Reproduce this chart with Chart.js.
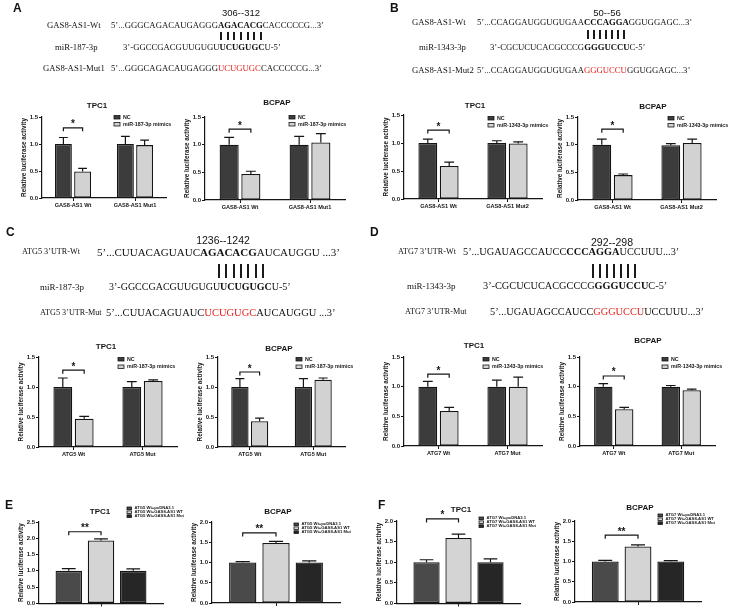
<!DOCTYPE html>
<html>
<head>
<meta charset="utf-8">
<script src="https://cdn.jsdelivr.net/npm/chart.js"></script>
<style>
body{margin:0;background:#fff;}
#page{position:relative;width:730px;height:608px;overflow:hidden;background:#fff;}
#page canvas{position:absolute;left:0;top:0;}
.t{position:absolute;white-space:nowrap;line-height:1;transform:translateY(-50%);color:#111;}
.c{transform:translate(-50%,-50%);}
.seq{font-family:"Liberation Serif","Times New Roman",serif;}
.sans{font-family:"Liberation Sans",Arial,sans-serif;}
.pl{font-family:"Liberation Sans",Arial,sans-serif;font-weight:bold;}
.red{color:#e3221c;}
.pair{position:absolute;background:#1a1a1a;width:2px;}
</style>
</head>
<body>
<div id="page"></div>
<script>
// ---- data ----
var gasLabelsA = ['GAS8-AS1 Wt', 'GAS8-AS1 Mut1'];
var gasLabelsB = ['GAS8-AS1 Wt', 'GAS8-AS1 Mut2'];
var atg5Labels = ['ATG5 Wt', 'ATG5 Mut'];
var atg7Labels = ['ATG7 Wt', 'ATG7 Mut'];
var oneLabel = [''];

// A: GAS8-AS1 / miR-187-3p
var aTpcNC = [1.00, 1.00], aTpcNCErr = [0.12, 0.14];
var aTpcMim = [0.49, 0.98], aTpcMimErr = [0.06, 0.09];
var aBcNC = [1.00, 1.00], aBcNCErr = [0.13, 0.15];
var aBcMim = [0.47, 1.04], aBcMimErr = [0.05, 0.16];
// B: GAS8-AS1 / miR-1343-3p
var bTpcNC = [1.00, 1.00], bTpcNCErr = [0.07, 0.04];
var bTpcMim = [0.59, 0.99], bTpcMimErr = [0.07, 0.03];
var bBcNC = [1.00, 0.99], bBcNCErr = [0.10, 0.03];
var bBcMim = [0.45, 1.03], bBcMimErr = [0.02, 0.07];
// C: ATG5 / miR-187-3p
var cTpcNC = [1.00, 1.00], cTpcNCErr = [0.15, 0.09];
var cTpcMim = [0.47, 1.10], cTpcMimErr = [0.04, 0.02];
var cBcNC = [1.00, 1.00], cBcNCErr = [0.14, 0.14];
var cBcMim = [0.43, 1.12], cBcMimErr = [0.05, 0.03];
// D: ATG7 / miR-1343-3p
var dTpcNC = [1.00, 1.00], dTpcNCErr = [0.09, 0.11];
var dTpcMim = [0.59, 1.00], dTpcMimErr = [0.06, 0.16];
var dBcNC = [1.00, 1.00], dBcNCErr = [0.05, 0.02];
var dBcMim = [0.62, 0.94], dBcMimErr = [0.03, 0.02];
// E: ATG5 Wt + pcDNA3.1 / GAS8-AS1 WT / GAS8-AS1 Mut
var eTpcVals = [1.00, 1.93, 1.00], eTpcErr = [0.07, 0.05, 0.06];
var eBcVals = [1.00, 1.48, 1.00], eBcErr = [0.02, 0.04, 0.04];
// F: ATG7 Wt + pcDNA3.1 / GAS8-AS1 WT / GAS8-AS1 Mut
var fTpcVals = [1.00, 1.59, 1.00], fTpcErr = [0.06, 0.09, 0.08];
var fBcVals = [1.00, 1.37, 1.00], fBcErr = [0.03, 0.04, 0.02];
// significance brackets (height on y axis) and marks
var bracketY = {A1: 1.30, A2: 1.28, B1: 1.23, B2: 1.28, C1: 1.28, C2: 1.25, D1: 1.21, D2: 1.18, E1: 2.20, E2: 1.73, F1: 2.05, F2: 1.65};
var bracketMark = {A1: '*', A2: '*', B1: '*', B2: '*', C1: '*', C2: '*', D1: '*', D2: '*', E1: '**', E2: '**', F1: '*', F2: '**'};

var colNC = '#3c3c3c', colMim = '#d2d2d2';
var col3 = ['#4a4a4a', '#d4d4d4', '#262626'];
var ink = '#151515';
var sansFam = "'Liberation Sans', Arial, sans-serif";

Chart.defaults.font.family = sansFam;
Chart.defaults.color = ink;

var page = document.getElementById('page');

function drawExtras(chart, o) {
    var ctx = chart.ctx, ys = chart.scales.y;
    ctx.save();
    ctx.strokeStyle = ink;
    ctx.fillStyle = ink;
    ctx.lineWidth = 1.2;
    // error bars (upper only)
    chart.data.datasets.forEach(function (ds, i) {
        chart.getDatasetMeta(i).data.forEach(function (bar, j) {
            var top = ys.getPixelForValue(ds.data[j] + ds.err[j]);
            var cap = bar.width * 0.26;
            ctx.beginPath();
            ctx.moveTo(bar.x, bar.y);
            ctx.lineTo(bar.x, top);
            ctx.moveTo(bar.x - cap, top);
            ctx.lineTo(bar.x + cap, top);
            ctx.stroke();
        });
    });
    // bracket
    var x1 = chart.getDatasetMeta(0).data[0].x;
    var x2 = chart.getDatasetMeta(1).data[0].x;
    var by = ys.getPixelForValue(bracketY[o.key]);
    ctx.beginPath();
    ctx.moveTo(x1, by + 3.5);
    ctx.lineTo(x1, by);
    ctx.lineTo(x2, by);
    ctx.lineTo(x2, by + 3.5);
    ctx.stroke();
    ctx.font = 'bold 10px ' + sansFam;
    ctx.textAlign = 'center';
    ctx.textBaseline = 'alphabetic';
    ctx.fillText(bracketMark[o.key], (x1 + x2) / 2, by - 0.5);
    // title
    ctx.font = 'bold 8px ' + sansFam;
    ctx.textBaseline = 'middle';
    ctx.fillText(o.title, o.tx, o.ty);
    // legend
    ctx.textAlign = 'left';
    ctx.font = 'bold ' + o.lf + 'px ' + sansFam;
    chart.data.datasets.forEach(function (ds, i) {
        var ly = o.ly + i * o.ls;
        ctx.fillStyle = ds.backgroundColor;
        ctx.fillRect(o.lx, ly, o.lw, o.lh);
        ctx.lineWidth = 0.8;
        ctx.strokeRect(o.lx, ly, o.lw, o.lh);
        ctx.fillStyle = ink;
        ctx.fillText(ds.label, o.lx + o.lw + 3, ly + o.lh / 2);
    });
    ctx.restore();
}

function barChart(o) {
    var cv = document.createElement('canvas');
    cv.width = 730;
    cv.height = 608;
    page.appendChild(cv);
    var xh = o.xh || 12;
    var sets = o.sets.map(function (s) {
        return {
            label: s.label, data: s.data, err: s.err,
            backgroundColor: s.color, borderColor: ink, borderWidth: 1.3, borderSkipped: false,
            categoryPercentage: o.cp, barPercentage: o.bp
        };
    });
    return new Chart(cv, {
        type: 'bar',
        data: {labels: o.labels, datasets: sets},
        options: {
            responsive: false,
            animation: false,
            events: [],
            layout: {padding: {left: o.ax - 24, right: 730 - o.ar, top: o.yt, bottom: 608 - o.yb - xh}},
            plugins: {legend: {display: false}, tooltip: {enabled: false}},
            scales: {
                x: {
                    grid: {drawOnChartArea: false, tickLength: 3, offset: false, color: ink, lineWidth: 1},
                    border: {color: ink, width: 1.2},
                    ticks: {font: {size: 5.6, weight: 'bold'}, padding: 1, maxRotation: 0, autoSkip: false},
                    afterFit: function (s) { s.height = xh; }
                },
                y: {
                    min: 0, max: o.max,
                    grid: {drawOnChartArea: false, tickLength: 3, color: ink, lineWidth: 1},
                    border: {color: ink, width: 1.2},
                    ticks: {stepSize: 0.5, font: {size: 6, weight: 'bold'}, padding: 1,
                        callback: function (v) { return v.toFixed(1); }},
                    title: {display: true, text: 'Relative luciferase activity',
                        font: {size: 6.3, weight: 'bold'}, padding: {top: 2.5, bottom: 0}},
                    afterFit: function (s) { s.width = 24; }
                }
            }
        },
        plugins: [{id: 'extras', afterDatasetsDraw: function (chart) { drawExtras(chart, o); }}]
    });
}

function pairSets(l2, nc, ncErr, mim, mimErr) {
    return [{label: 'NC', data: nc, err: ncErr, color: colNC},
            {label: l2, data: mim, err: mimErr, color: colMim}];
}
function tripleSets(gene, vals, errs) {
    var names = [gene + ' Wt+pcDNA3.1', gene + ' Wt+GAS8-AS1 WT', gene + ' Wt+GAS8-AS1 Mut'];
    return names.map(function (n, i) {
        return {label: n, data: [vals[i]], err: [errs[i]], color: col3[i]};
    });
}

var pairOpts = {max: 1.5, cp: 0.62, bp: 0.88, lw: 6, lh: 3.5, ls: 7, lf: 5.3};
var tripOpts = {max: 2.0, cp: 0.78, bp: 0.82, lw: 4.5, lh: 2.6, ls: 3.9, lf: 4.2, xh: 3};
function withBase(base, o) { return Object.assign({}, base, o); }

// A
barChart(withBase(pairOpts, {key: 'A1', ax: 42, ar: 166, yt: 117, yb: 198, labels: gasLabelsA,
    sets: pairSets('miR-187-3p mimics', aTpcNC, aTpcNCErr, aTpcMim, aTpcMimErr),
    title: 'TPC1', tx: 97, ty: 106, lx: 114, ly: 115.5}));
barChart(withBase(pairOpts, {key: 'A2', ax: 205, ar: 345, yt: 117, yb: 200, labels: gasLabelsA,
    sets: pairSets('miR-187-3p mimics', aBcNC, aBcNCErr, aBcMim, aBcMimErr),
    title: 'BCPAP', tx: 277, ty: 103, lx: 289, ly: 115.5}));
// B
barChart(withBase(pairOpts, {key: 'B1', ax: 404, ar: 542, yt: 115, yb: 199, labels: gasLabelsB,
    sets: pairSets('miR-1343-3p mimics', bTpcNC, bTpcNCErr, bTpcMim, bTpcMimErr),
    title: 'TPC1', tx: 475, ty: 106, lx: 488, ly: 116.5}));
barChart(withBase(pairOpts, {key: 'B2', ax: 578, ar: 716, yt: 117, yb: 200, labels: gasLabelsB,
    sets: pairSets('miR-1343-3p mimics', bBcNC, bBcNCErr, bBcMim, bBcMimErr),
    title: 'BCPAP', tx: 653, ty: 107, lx: 668, ly: 116.5}));
// C
barChart(withBase(pairOpts, {key: 'C1', ax: 39, ar: 177, yt: 357, yb: 447, labels: atg5Labels, ls: 7.5,
    sets: pairSets('miR-187-3p mimics', cTpcNC, cTpcNCErr, cTpcMim, cTpcMimErr),
    title: 'TPC1', tx: 106, ty: 347, lx: 118, ly: 357.5}));
barChart(withBase(pairOpts, {key: 'C2', ax: 218, ar: 345, yt: 357, yb: 447, labels: atg5Labels, ls: 7.5,
    sets: pairSets('miR-187-3p mimics', cBcNC, cBcNCErr, cBcMim, cBcMimErr),
    title: 'BCPAP', tx: 279, ty: 349, lx: 296, ly: 357.5}));
// D
barChart(withBase(pairOpts, {key: 'D1', ax: 404, ar: 542, yt: 357, yb: 446, labels: atg7Labels, ls: 7.5,
    sets: pairSets('miR-1343-3p mimics', dTpcNC, dTpcNCErr, dTpcMim, dTpcMimErr),
    title: 'TPC1', tx: 474, ty: 346, lx: 483, ly: 357.5}));
barChart(withBase(pairOpts, {key: 'D2', ax: 580, ar: 715, yt: 357, yb: 446, labels: atg7Labels, ls: 7.5,
    sets: pairSets('miR-1343-3p mimics', dBcNC, dBcNCErr, dBcMim, dBcMimErr),
    title: 'BCPAP', tx: 648, ty: 341, lx: 662, ly: 357.5}));
// E
barChart(withBase(tripOpts, {key: 'E1', max: 2.5, ax: 39, ar: 163, yt: 522, yb: 605, labels: oneLabel,
    sets: tripleSets('ATG5', eTpcVals, eTpcErr), title: 'TPC1', tx: 100, ty: 512, lx: 127, ly: 507}));
barChart(withBase(tripOpts, {key: 'E2', ax: 212, ar: 340, yt: 522, yb: 603, labels: oneLabel,
    sets: tripleSets('ATG5', eBcVals, eBcErr), title: 'BCPAP', tx: 278, ty: 512, lx: 294, ly: 523}));
// F
barChart(withBase(tripOpts, {key: 'F1', ax: 397, ar: 520, yt: 521, yb: 604, labels: oneLabel,
    sets: tripleSets('ATG7', fTpcVals, fTpcErr), title: 'TPC1', tx: 461, ty: 510, lx: 479, ly: 517}));
barChart(withBase(tripOpts, {key: 'F2', ax: 575, ar: 701, yt: 521, yb: 602, labels: oneLabel,
    sets: tripleSets('ATG7', fBcVals, fBcErr), title: 'BCPAP', tx: 640, ty: 508, lx: 658, ly: 514}));

// ---- sequence schematics ----
function txt(html, x, y, cls, size, center) {
    var d = document.createElement('div');
    d.className = 't ' + cls + (center ? ' c' : '');
    d.style.left = x + 'px';
    d.style.top = y + 'px';
    d.style.fontSize = size + 'px';
    d.innerHTML = html;
    page.appendChild(d);
}
function pairing(x1, x2, y1, y2) {
    for (var i = 0; i < 7; i++) {
        var d = document.createElement('div');
        d.className = 'pair';
        d.style.left = Math.round(x1 + (x2 - x1) * i / 6) + 'px';
        d.style.top = y1 + 'px';
        d.style.height = (y2 - y1) + 'px';
        page.appendChild(d);
    }
}
var q = '&#8217;';

txt('A', 13, 8, 'pl', 12);
txt('306--312', 241, 13, 'sans', 9.5, true);
txt('GAS8-AS1-Wt', 47, 25, 'seq', 8.7);
txt('5' + q + '...GGGCAGACAUGAGGG<b>AGACACG</b>CACCCCCG...3' + q, 111, 25, 'seq', 8.7);
pairing(220, 260, 32, 40);
txt('miR-187-3p', 55, 47, 'seq', 8.7);
txt('3' + q + '-GGCCGACGUUGUGU<b>UCUGUGC</b>U-5' + q, 123, 47, 'seq', 8.7);
txt('GAS8-AS1-Mut1', 43, 68, 'seq', 8.7);
txt('5' + q + '...GGGCAGACAUGAGGG<span class="red">UCUGUGC</span>CACCCCCG...3' + q, 111, 68, 'seq', 8.7);

txt('B', 390, 8, 'pl', 12);
txt('50--56', 607, 13, 'sans', 9.5, true);
txt('GAS8-AS1-Wt', 412, 22, 'seq', 8.7);
txt('5' + q + '...CCAGGAUGGUGUGAA<b>CCCAGGA</b>GGUGGAGC...3' + q, 477, 22, 'seq', 8.7);
pairing(587, 623, 30, 39);
txt('miR-1343-3p', 419, 47, 'seq', 8.7);
txt('3' + q + '-CGCUCUCACGCCCG<b>GGGUCCU</b>C-5' + q, 490, 47, 'seq', 8.7);
txt('GAS8-AS1-Mut2', 412, 70, 'seq', 8.7);
txt('5' + q + '...CCAGGAUGGUGUGAA<span class="red">GGGUCCU</span>GGUGGAGC...3' + q, 477, 70, 'seq', 8.7);

txt('C', 6, 232, 'pl', 12);
txt('1236--1242', 223, 240, 'sans', 10.5, true);
txt('ATG5 3' + q + 'UTR-Wt', 22, 252, 'seq', 8.2);
txt('5' + q + '...CUUACAGUAUC<b>AGACACG</b>AUCAUGGU ...3' + q, 97, 252, 'seq', 11);
pairing(218, 262, 264, 278);
txt('miR-187-3p', 40, 287, 'seq', 9);
txt('3' + q + '-GGCCGACGUUGUGU<b>UCUGUGC</b>U-5' + q, 109, 287, 'seq', 10);
txt('ATG5 3' + q + 'UTR-Mut', 40, 313, 'seq', 8.2);
txt('5' + q + '...CUUACAGUAUC<span class="red">UCUGUGC</span>AUCAUGGU ...3' + q, 106, 313, 'seq', 10.5);

txt('D', 370, 232, 'pl', 12);
txt('292--298', 612, 242, 'sans', 10.5, true);
txt('ATG7 3' + q + 'UTR-Wt', 398, 252, 'seq', 8.2);
txt('5' + q + '...UGAUAGCCAUCC<b>CCCAGGA</b>UCCUUU...3' + q, 463, 252, 'seq', 10.3);
pairing(592, 634, 264, 278);
txt('miR-1343-3p', 407, 286, 'seq', 9);
txt('3' + q + '-CGCUCUCACGCCCG<b>GGGUCCU</b>C-5' + q, 483, 286, 'seq', 10.3);
txt('ATG7 3' + q + 'UTR-Mut', 405, 312, 'seq', 8.2);
txt('5' + q + '...UGAUAGCCAUCC<span class="red">GGGUCCU</span>UCCUUU...3' + q, 490, 312, 'seq', 10.3);

txt('E', 5, 505, 'pl', 12);
txt('F', 378, 505, 'pl', 12);
</script>
</body>
</html>
